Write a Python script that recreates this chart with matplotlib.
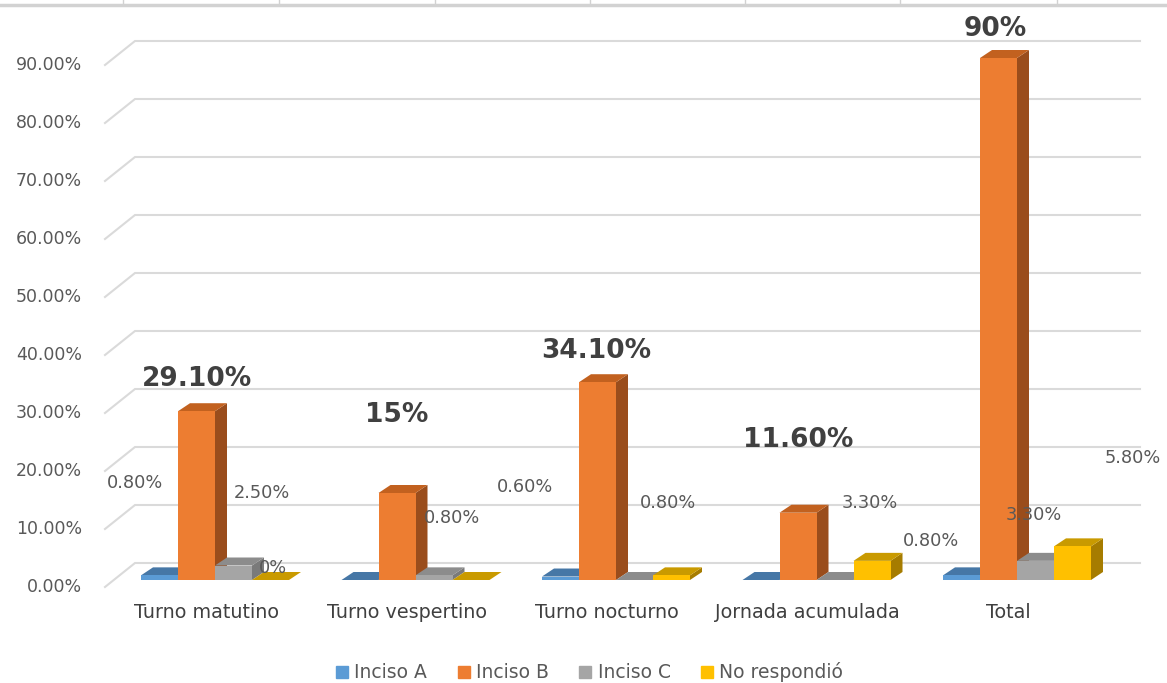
import matplotlib.pyplot as plt
from matplotlib.patches import Polygon
from matplotlib.lines import Line2D

categorias = ["Turno matutino", "Turno vespertino", "Turno nocturno",
              "Jornada acumulada", "Total"]
inciso_a = [0.8, 0.0, 0.6, 0.0, 0.8]
inciso_b = [29.1, 15.0, 34.1, 11.6, 90.0]
inciso_c = [2.5, 0.8, 0.0, 0.0, 3.3]
no_respondio = [0.0, 0.0, 0.8, 3.3, 5.8]
series_nombres = ["Inciso A", "Inciso B", "Inciso C", "No respondió"]
ticks_y = [0, 10, 20, 30, 40, 50, 60, 70, 80, 90]

series = [inciso_a, inciso_b, inciso_c, no_respondio]

# colores: frente, tapa, lateral
frente = ["#5B9BD5", "#ED7D31", "#A5A5A5", "#FFC000"]
tapa = ["#4677A6", "#C2611F", "#8C8C8C", "#C99A00"]
lateral = ["#3D6894", "#9A4D1C", "#7A7A7A", "#A67C00"]

# etiquetas visibles (serie, categoria) -> desplazamiento en pixeles
etiquetas = {
    (0, 0): (-25, 92), (1, 0): (0, 32), (2, 0): (28, 72), (3, 0): (2, 12),
    (1, 1): (0, 78), (2, 1): (18, 57),
    (0, 2): (-35, 90), (1, 2): (-1, 31), (3, 2): (-4, 72),
    (1, 3): (0, 73), (3, 3): (-2, 58),
    (0, 4): (-31, 34), (1, 4): (-3, 29), (2, 4): (-2, 46), (3, 4): (60, 88),
}

W, H = 1167, 683
PX_X = 200.5   # pixeles por categoria
PX_Y = 5.8     # pixeles por punto porcentual
X0, Y0 = 215, 580  # origen en pixeles (desde arriba)


def pct(v):
    if float(v).is_integer():
        return f"{v:.0f}%"
    return f"{v:.2f}%"


def px(p):
    return (p - X0) / PX_X


def py(p):
    return p / PX_Y


fig = plt.figure(figsize=(W / 100, H / 100), dpi=100)
ax = fig.add_axes([0, 0, 1, 1])
ax.set_xlim(px(0), px(W))
ax.set_ylim(-(H - Y0) / PX_Y, Y0 / PX_Y)
ax.axis("off")

# borde superior con marcas
fig.add_artist(Line2D([0, 1], [1 - 5 / H, 1 - 5 / H], color="#D2D2D2", lw=2.5))
for xm in [123, 279, 435, 590, 745, 900, 1057]:
    fig.add_artist(Line2D([xm / W, xm / W], [1 - 4 / H, 1], color="#D2D2D2", lw=1))

# rejilla con pared del fondo
for v in ticks_y:
    ax.plot([px(105), px(135), px(1140)],
            [v - py(7), v + py(17), v + py(17)],
            color="#DADADA", lw=1.5, zorder=1, solid_joinstyle="miter")
    ax.text(px(82), v - py(7), f"{v:.2f}%", ha="right", va="center",
            fontsize=12.5, color="#595959")

bw = 37 / PX_X
ddx, ddy = 12 / PX_X, py(8)

for i in range(len(categorias)):
    for j, vals in enumerate(series):
        h = vals[i]
        x0 = i + (j - 2) * bw
        x1 = x0 + bw
        ax.add_patch(Polygon([(x1, 0), (x1 + ddx, ddy), (x1 + ddx, h + ddy), (x1, h)],
                             closed=True, fc=lateral[j], ec="none", zorder=3))
        ax.add_patch(Polygon([(x0, h), (x1, h), (x1 + ddx, h + ddy), (x0 + ddx, h + ddy)],
                             closed=True, fc=tapa[j], ec="none", zorder=3))
        ax.add_patch(Polygon([(x0, 0), (x1, 0), (x1, h), (x0, h)],
                             closed=True, fc=frente[j], ec="none", zorder=3))
        if (j, i) in etiquetas:
            off = etiquetas[(j, i)]
            if j == 1:
                kw = dict(fontsize=19, fontweight="bold", color="#404040")
            else:
                kw = dict(fontsize=12.8, color="#595959")
            ax.annotate(pct(h), xy=(x0 + bw / 2, h), xytext=off,
                        textcoords="offset pixels", ha="center", va="center",
                        zorder=5, **kw)
    ax.text(i - 9 / PX_X, -py(33), categorias[i], ha="center", va="center",
            fontsize=13.8, color="#404040")

handles = [Line2D([], [], marker="s", ls="none", markersize=8,
                  markerfacecolor=c, markeredgecolor=c) for c in frente]
fig.legend(handles, series_nombres, loc="center", bbox_to_anchor=(0.505, 0.016),
           ncol=4, frameon=False, fontsize=13.5, labelcolor="#595959",
           handlelength=0.7, handletextpad=0.3, columnspacing=1.6)

fig.savefig("out.png", dpi=100, facecolor="white")
